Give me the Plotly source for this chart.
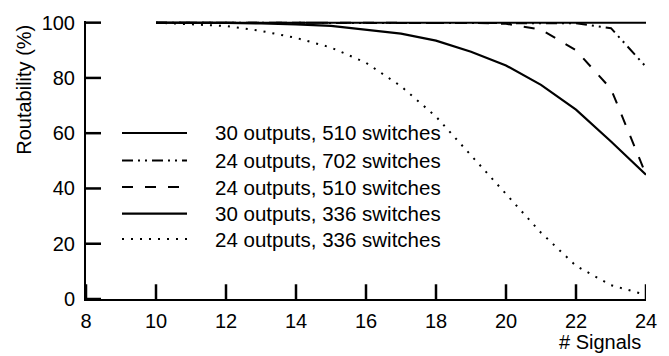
import plotly.graph_objects as go

# ---- data ----
signals = [10, 11, 12, 13, 14, 15, 16, 17, 18, 19, 20, 21, 22, 23, 24]
s30_510 = [100, 100, 100, 100, 100, 100, 100, 100, 100, 100, 100, 100, 100, 100, 100]
s24_702 = [100, 100, 100, 100, 100, 100, 100, 100, 100, 100, 100, 100, 99.8, 98, 84]
s24_510 = [100, 100, 100, 100, 100, 100, 100, 100, 100, 99.9, 99.6, 97.5, 90, 76, 45]
s30_336 = [100, 100, 99.9, 99.7, 99.4, 98.8, 97.5, 96, 93.5, 89.5, 84.5, 77.5, 68.5, 57, 45]
s24_336 = [100, 99.5, 98.8, 97, 94.5, 91, 85.5, 77, 66, 52, 38, 24, 12, 5, 1.5]
series_names = ["30 outputs, 510 switches", "24 outputs, 702 switches",
                "24 outputs, 510 switches", "30 outputs, 336 switches",
                "24 outputs, 336 switches"]
x_ticks = [8, 10, 12, 14, 16, 18, 20, 22, 24]
y_ticks = [0, 20, 40, 60, 80, 100]

FONT = "Liberation Sans, Arial, sans-serif"
dashes = ["solid", "11px,5px,2px,5px,2px,5px", "11px,12px", "solid", "2px,7px"]
widths = [2, 2, 2, 2.2, 2]
series = [s30_510, s24_702, s24_510, s30_336, s24_336]

W, H = 669, 356
L, R, T, B = 86, 23, 16, 57
pw, ph = W - L - R, H - T - B
XR = [8, 24]
YR = [0, 100.6]
TICK = 15  # px

fig = go.Figure()
for name, ys, d, w in zip(series_names, series, dashes, widths):
    fig.add_trace(go.Scatter(x=signals, y=ys, mode="lines", name=name,
                             line=dict(color="black", width=w, dash=d),
                             showlegend=False, hoverinfo="skip"))

# inside tick marks, drawn as a line trace in data units
tx, ty = [], []
dy = TICK * (YR[1] - YR[0]) / ph
dx = TICK * (XR[1] - XR[0]) / pw
for v in x_ticks:
    tx += [v, v, None]
    ty += [YR[0], YR[0] + dy, None]
for v in y_ticks:
    tx += [XR[0], XR[0] + dx, None]
    ty += [v, v, None]
fig.add_trace(go.Scatter(x=tx, y=ty, mode="lines", line=dict(color="black", width=2.5),
                         showlegend=False, hoverinfo="skip", cliponaxis=False))

def px(xp):
    return (xp - L) / pw
def py(yp):
    return (H - B - yp) / ph

shapes = []
annots = []
# manual legend (long sample lines like the original)
rows = [130, 158, 185, 212, 238]
for name, d, w, ry in zip(series_names, dashes, widths, rows):
    shapes.append(dict(type="line", xref="paper", yref="paper",
                       x0=px(122), x1=px(187), y0=py(ry), y1=py(ry),
                       line=dict(color="black", width=w, dash=d)))
    annots.append(dict(xref="paper", yref="paper", x=px(213), y=py(ry),
                       xanchor="left", yanchor="middle", showarrow=False,
                       text=name, font=dict(family=FONT, size=20.5, color="black")))

annots.append(dict(xref="paper", yref="paper", x=px(643), y=py(343),
                   xanchor="right", yanchor="middle", showarrow=False,
                   text="# Signals", font=dict(family=FONT, size=20, color="black")))
annots.append(dict(xref="paper", yref="paper", x=px(24), y=py(86),
                   xanchor="center", yanchor="middle", showarrow=False, textangle=-90,
                   text="Routability (%)", font=dict(family=FONT, size=20, color="black")))

axis_common = dict(showgrid=False, zeroline=False, showline=True, linecolor="black",
                   linewidth=2, ticks="", tickmode="array",
                   tickfont=dict(family=FONT, size=20, color="black"))

fig.update_layout(
    width=W, height=H,
    margin=dict(l=L, r=R, t=T, b=B, pad=0),
    paper_bgcolor="white", plot_bgcolor="white",
    xaxis=dict(range=XR, tickvals=x_ticks, ticktext=[str(v) for v in x_ticks],
               ticklabelstandoff=3, **axis_common),
    yaxis=dict(range=YR, tickvals=y_ticks, ticktext=[str(v) for v in y_ticks],
               ticklabelstandoff=5, **axis_common),
    shapes=shapes, annotations=annots,
)
fig.write_html("out.html")
